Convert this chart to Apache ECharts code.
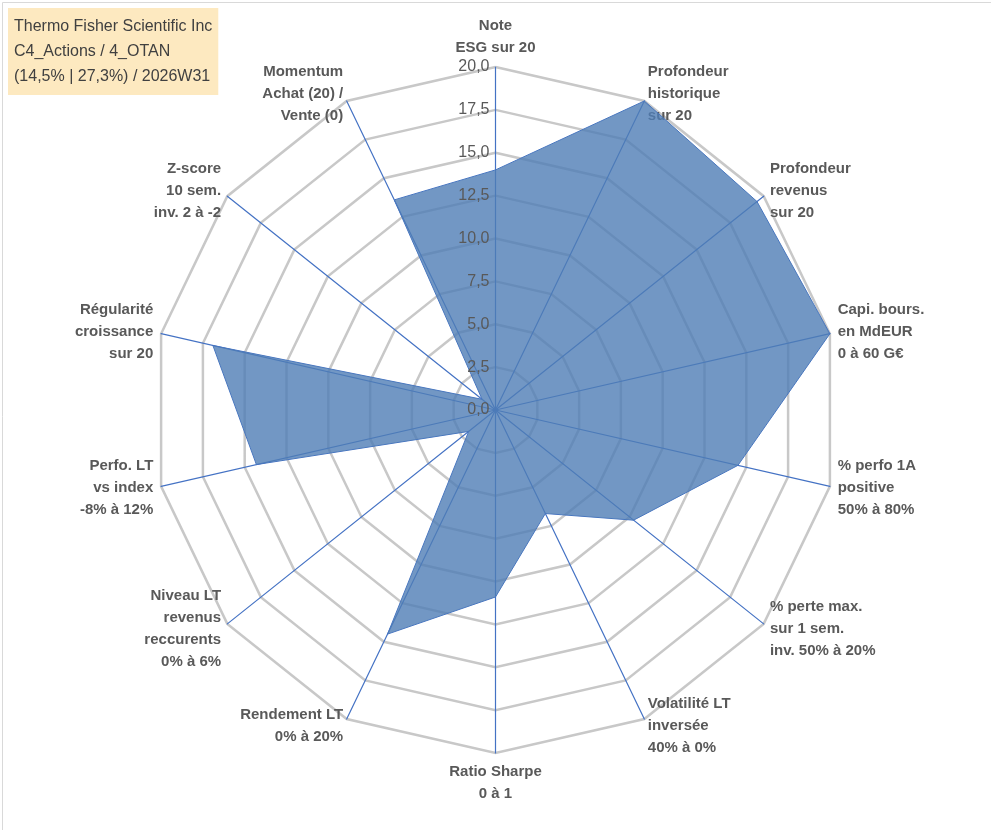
<!DOCTYPE html>
<html><head><meta charset="utf-8">
<script src="https://cdn.jsdelivr.net/npm/echarts@6/dist/echarts.min.js"></script>
<style>html,body{margin:0;padding:0;background:#fff}#c{width:991px;height:830px}</style>
</head><body><div id="c"></div>
<script>
// listed clockwise from the top
const indicators = [
  'Note\nESG sur 20',
  'Profondeur\nhistorique\nsur 20',
  'Profondeur\nrevenus\nsur 20',
  'Capi. bours.\nen MdEUR\n0 à 60 G€',
  '% perfo 1A\npositive\n50% à 80%',
  '% perte max.\nsur 1 sem.\ninv. 50% à 20%',
  'Volatilité LT\ninversée\n40% à 0%',
  'Ratio Sharpe\n0 à 1',
  'Rendement LT\n0% à 20%',
  'Niveau LT\nrevenus\nreccurents\n0% à 6%',
  'Perfo. LT\nvs index\n-8% à 12%',
  'Régularité\ncroissance\nsur 20',
  'Z-score\n10 sem.\ninv. 2 à -2',
  'Momentum\nAchat (20) /\nVente (0)'
];
const values = [14.0, 20, 19.5, 20, 14.5, 10.3, 6.7, 10.9, 14.5, 2.0, 14.3, 16.9, 1.0, 13.6];
const titleLines = ['Thermo Fisher Scientific Inc', 'C4_Actions / 4_OTAN', '(14,5% | 27,3%) / 2026W31'];

// radar draws counter-clockwise, so flip everything after the first axis
const cw = arr => [arr[0]].concat(arr.slice(1).reverse());

const center = ['50%', '49.4%'];
const radius = 343;
const chart = echarts.init(document.getElementById('c'));
chart.setOption({
  backgroundColor: '#fff',
  graphic: [{
    type: 'rect', left: 0, top: 0, shape: { width: 989, height: 828 },
    style: { fill: 'none', stroke: '#d9d9d9', lineWidth: 1 }
  }],
  title: {
    text: titleLines.join('\n'), left: 8, top: 8,
    backgroundColor: '#fde9c0', padding: [6, 6],
    textStyle: { fontFamily: 'Liberation Sans', fontSize: 16, fontWeight: 'normal', color: '#404040', lineHeight: 25 }
  },
  radar: {
    center: center, radius: radius, startAngle: 90, shape: 'polygon', splitNumber: 8,
    indicator: cw(indicators).map(n => ({ name: n, min: 0, max: 20 })),
    axisName: { color: '#595959', fontFamily: 'Liberation Sans', fontSize: 15, fontWeight: 'bold', lineHeight: 22 },
    nameGap: 8,
    splitLine: { lineStyle: { color: '#c8c8c8', width: 2.5 } },
    splitArea: { show: false },
    axisLine: { lineStyle: { color: '#4472c4', width: 1.2 } },
    axisTick: { show: false },
    axisLabel: { show: false }
  },
  polar: { center: center, radius: radius },
  angleAxis: { startAngle: 90, show: false, min: 0, max: 360 },
  radiusAxis: {
    min: 0, max: 20, interval: 2.5, z: 10,
    axisLine: { show: false }, axisTick: { show: false }, splitLine: { show: false },
    axisLabel: {
      formatter: v => v.toFixed(1).replace('.', ','),
      color: '#595959', fontFamily: 'Liberation Sans', fontSize: 16, margin: 6
    }
  },
  series: [{
    type: 'radar', symbol: 'none',
    lineStyle: { color: '#4472c4', width: 1 },
    areaStyle: { color: '#4f7db5', opacity: 0.8 },
    data: [{ value: cw(values) }]
  }]
});
</script></body></html>
